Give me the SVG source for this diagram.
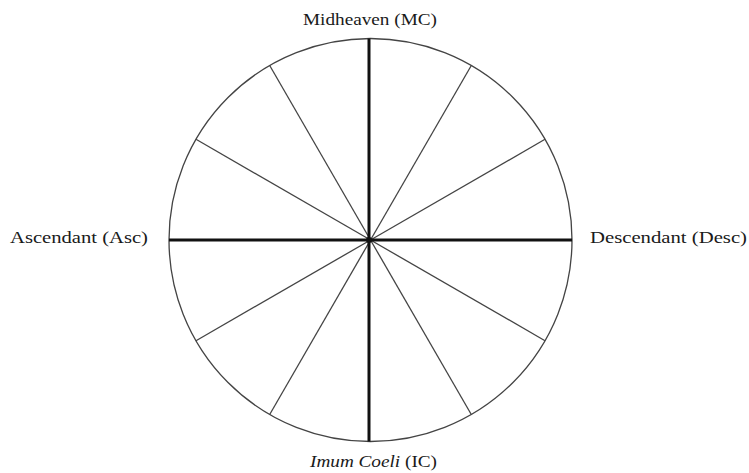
<svg xmlns="http://www.w3.org/2000/svg" width="749" height="473" viewBox="0 0 749 473">
<style>
.lbl{font-family:"Liberation Serif","DejaVu Serif",serif;font-size:16px;fill:#1a1a1a}
.it{font-family:"Liberation Serif","DejaVu Serif",serif;font-style:italic}
.thin{stroke:#444;stroke-width:1.3;fill:none}
.thick{stroke:#111;stroke-width:3;fill:none}
</style>
<rect width="749" height="473" fill="#fff"/>
<g id="wheel">
<circle cx="370.5" cy="240" r="201.5" class="thin"/>
</g>
<g id="connectors">
<line x1="370.5" y1="240" x2="471.3" y2="65.5" class="thin"/>
<line x1="370.5" y1="240" x2="545" y2="139.3" class="thin"/>
<line x1="370.5" y1="240" x2="545" y2="340.7" class="thin"/>
<line x1="370.5" y1="240" x2="471.3" y2="414.5" class="thin"/>
<line x1="370.5" y1="240" x2="269.7" y2="414.5" class="thin"/>
<line x1="370.5" y1="240" x2="196" y2="340.7" class="thin"/>
<line x1="370.5" y1="240" x2="196" y2="139.3" class="thin"/>
<line x1="370.5" y1="240" x2="269.7" y2="65.5" class="thin"/>
<line x1="369" y1="38.5" x2="369" y2="441.5" class="thick"/>
<line x1="169" y1="240" x2="572" y2="240" class="thick"/>
<circle cx="369" cy="240" r="3" fill="#111"/>
</g>
<g id="mc"><text class="lbl" x="370" y="25" text-anchor="middle" textLength="134" lengthAdjust="spacingAndGlyphs">Midheaven (MC)</text></g>
<g id="asc"><text class="lbl" x="10" y="243" textLength="138" lengthAdjust="spacingAndGlyphs">Ascendant (Asc)</text></g>
<g id="desc"><text class="lbl" x="590" y="243" textLength="157" lengthAdjust="spacingAndGlyphs">Descendant (Desc)</text></g>
<g id="ic"><text class="lbl" x="310" y="467" textLength="127" lengthAdjust="spacingAndGlyphs"><tspan class="it">Imum Coeli</tspan> (IC)</text></g>
</svg>
